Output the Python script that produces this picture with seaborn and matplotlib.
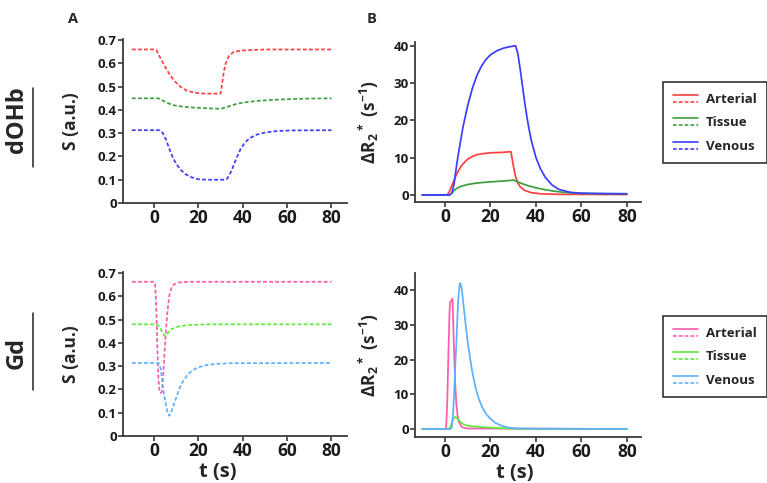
import numpy as np
import pandas as pd
import matplotlib
matplotlib.use("Agg")
import matplotlib.pyplot as plt
from matplotlib.lines import Line2D
from matplotlib.legend_handler import HandlerBase
import seaborn as sns

# ---------------- data ----------------
regions = ["Arterial", "Tissue", "Venous"]

# dOHb signal (panel A, top)
dohb_art_t = [-10, 0, 1, 3, 5, 7, 9, 11, 13, 15, 18, 21, 25, 29, 30, 30.8, 31.5, 32.3, 33.8, 36, 39, 45, 50, 80]
dohb_art_s = [0.66, 0.66, 0.658, 0.62, 0.585, 0.553, 0.527, 0.507, 0.492, 0.482, 0.475, 0.471, 0.47, 0.47, 0.47, 0.52, 0.565, 0.6, 0.633, 0.65, 0.655, 0.658, 0.66, 0.66]
dohb_tis_t = [-10, 2, 4, 6, 9, 13, 18, 24, 30, 32, 35, 38, 42, 48, 55, 62, 70, 80]
dohb_tis_s = [0.45, 0.45, 0.44, 0.43, 0.42, 0.414, 0.41, 0.407, 0.405, 0.41, 0.42, 0.428, 0.434, 0.44, 0.444, 0.447, 0.449, 0.45]
dohb_ven_t = [-10, 2.5, 4, 5.5, 7, 8.5, 10, 12, 14, 17, 20, 24, 28, 32, 33, 34.5, 36, 37.5, 39, 41, 43, 46, 50, 55, 62, 80]
dohb_ven_s = [0.313, 0.313, 0.30, 0.27, 0.23, 0.195, 0.168, 0.143, 0.125, 0.11, 0.102, 0.1, 0.1, 0.1, 0.105, 0.13, 0.165, 0.2, 0.232, 0.26, 0.278, 0.293, 0.303, 0.309, 0.312, 0.313]

# dOHb relaxation (panel B, top)
dohb_art_r_t = [-10, 1, 2, 3, 4, 5, 6, 7, 8, 10, 12, 14, 17, 20, 25, 29, 30, 31, 32, 33, 35, 38, 42, 50, 80]
dohb_art_r = [0, 0, 1, 2.5, 4, 5.4, 6.6, 7.6, 8.4, 9.6, 10.3, 10.8, 11.1, 11.3, 11.4, 11.6, 8, 5, 3.2, 2.2, 1.2, 0.6, 0.3, 0.15, 0.1]
dohb_tis_r_t = [-10, 2, 3, 4, 5, 7, 10, 13, 16, 20, 25, 29, 30, 32, 34, 37, 40, 44, 48, 52, 58, 65, 80]
dohb_tis_r = [0, 0, 0.5, 1.2, 1.7, 2.3, 2.8, 3.1, 3.3, 3.5, 3.7, 3.9, 4.0, 3.5, 3.0, 2.4, 1.9, 1.4, 1.0, 0.7, 0.45, 0.35, 0.3]
dohb_ven_r_t = [-10, 2, 3, 4, 5, 6, 7, 8, 10, 12, 14, 16, 18, 20, 23, 26, 29, 31, 32, 33, 34, 35, 36, 37, 38, 40, 42, 44, 47, 50, 55, 60, 70, 80]
dohb_ven_r = [0, 0, 0.5, 3, 7.5, 11.5, 15, 18.5, 24, 28.5, 32, 34.5, 36.3, 37.6, 38.7, 39.4, 39.8, 40, 38, 34, 29.5, 25, 21, 17.5, 14.5, 10, 7, 4.8, 2.7, 1.5, 0.7, 0.45, 0.35, 0.3]

# Gd signal (panel A, bottom)
gd_art_t = [-10, 0, 0.5, 1, 1.5, 2, 2.5, 3, 3.5, 4, 4.5, 5, 5.5, 6, 6.5, 7, 8, 9, 11, 15, 80]
gd_art_s = [0.663, 0.663, 0.655, 0.55, 0.38, 0.24, 0.19, 0.185, 0.19, 0.24, 0.32, 0.40, 0.47, 0.53, 0.575, 0.61, 0.64, 0.652, 0.66, 0.663, 0.663]
gd_tis_t = [-10, 1, 2, 3, 4, 5, 6, 7, 8, 10, 13, 17, 25, 80]
gd_tis_s = [0.48, 0.48, 0.475, 0.46, 0.44, 0.428, 0.44, 0.452, 0.46, 0.468, 0.474, 0.478, 0.48, 0.48]
gd_ven_t = [-10, 2, 3, 4, 5, 6, 6.8, 7.5, 8.5, 10, 11.5, 13, 15, 17, 19.5, 23, 28, 35, 80]
gd_ven_s = [0.314, 0.314, 0.29, 0.21, 0.15, 0.105, 0.087, 0.095, 0.125, 0.165, 0.205, 0.235, 0.262, 0.28, 0.294, 0.304, 0.31, 0.313, 0.314]

# Gd relaxation (panel B, bottom)
gd_art_r_t = [-10, 0, 0.5, 1, 1.5, 2, 2.3, 2.8, 3.3, 3.5, 4, 4.5, 5, 5.5, 6, 7, 8, 10, 80]
gd_art_r = [0, 0, 0.5, 8, 22, 34, 36.5, 37, 37.5, 33, 22, 13, 7, 4, 2.2, 0.9, 0.4, 0.15, 0]
gd_tis_r_t = [-10, 1.5, 2.5, 3.5, 4.5, 5.5, 6.5, 8, 10, 13, 17, 22, 28, 35, 80]
gd_tis_r = [0, 0, 0.8, 2.8, 3.5, 3.0, 2.2, 1.4, 0.95, 0.7, 0.5, 0.3, 0.15, 0.05, 0]
gd_ven_r_t = [-10, 2.5, 3, 3.5, 4, 4.5, 5, 5.5, 6, 6.5, 7, 7.5, 8, 9, 10, 11, 12, 13, 14, 15, 16.5, 18, 20, 22, 25, 28, 32, 80]
gd_ven_r = [0, 0, 0.5, 4, 10, 18, 25, 33, 39, 42, 41.5, 39.5, 36.5, 30.5, 25, 20.5, 16.5, 13.2, 10.5, 8.4, 6.1, 4.4, 2.9, 1.8, 0.9, 0.4, 0.15, 0]

x_ticks = [0, 20, 40, 60, 80]
s_ticks = [0, 0.1, 0.2, 0.3, 0.4, 0.5, 0.6, 0.7]
s_ticklabels = ["0", "0.1", "0.2", "0.3", "0.4", "0.5", "0.6", "0.7"]
r_ticks = [0, 10, 20, 30, 40]

dohb_colors = ["#ff4040", "#3e9e3e", "#3c3cff"]
gd_colors = ["#ff5aa8", "#5de83a", "#5cb0ff"]

# ---------------- style ----------------
sns.set_style("ticks")
FONT = "Open Sans"
plt.rcParams["font.family"] = [FONT, "DejaVu Sans"]
plt.rcParams["font.weight"] = "bold"
plt.rcParams["mathtext.fontset"] = "custom"
plt.rcParams["mathtext.rm"] = FONT + ":bold"
plt.rcParams["mathtext.bf"] = FONT + ":bold"
plt.rcParams["mathtext.default"] = "bf"

W, H = 767, 483
fig = plt.figure(figsize=(W / 100, H / 100), dpi=100)


def fbox(x0, y0, x1, y1):
    return [x0 / W, 1 - y1 / H, (x1 - x0) / W, (y1 - y0) / H]


axA1 = fig.add_axes(fbox(123, 39, 347, 203))
axB1 = fig.add_axes(fbox(415, 42, 641, 202))
axA2 = fig.add_axes(fbox(123, 272, 347, 436))
axB2 = fig.add_axes(fbox(415, 273, 641, 437))

dash = (0, (2.2, 1.3))


def draw(ax, series, colors, ls):
    for (t, v), c in zip(series, colors):
        df = pd.DataFrame({"t": t, "v": v})
        sns.lineplot(data=df, x="t", y="v", ax=ax, color=c, linestyle=ls,
                     linewidth=1.25, estimator=None, sort=True, legend=False)


draw(axA1, [(dohb_art_t, dohb_art_s), (dohb_tis_t, dohb_tis_s), (dohb_ven_t, dohb_ven_s)], dohb_colors, dash)
draw(axB1, [(dohb_art_r_t, dohb_art_r), (dohb_tis_r_t, dohb_tis_r), (dohb_ven_r_t, dohb_ven_r)], dohb_colors, "-")
draw(axA2, [(gd_art_t, gd_art_s), (gd_tis_t, gd_tis_s), (gd_ven_t, gd_ven_s)], gd_colors, dash)
draw(axB2, [(gd_art_r_t, gd_art_r), (gd_tis_r_t, gd_tis_r), (gd_ven_r_t, gd_ven_r)], gd_colors, "-")

spine_c = "#3a3a3a"
for ax in (axA1, axB1, axA2, axB2):
    sns.despine(ax=ax)
    for s in ("left", "bottom"):
        ax.spines[s].set_color(spine_c)
        ax.spines[s].set_linewidth(1.3)
    ax.tick_params(axis="both", direction="out", length=3.5, width=1.2, color=spine_c, pad=1)
    ax.tick_params(axis="x", labelsize=12.5)
    ax.tick_params(axis="y", labelsize=9.5)
    ax.set_xticks(x_ticks)
    ax.set_xlim(-14, 87)
    ax.set_xlabel("")
    ax.set_ylabel("")
    for lab in ax.get_xticklabels() + ax.get_yticklabels():
        lab.set_fontweight("bold")
        lab.set_color("#1a1a1a")

for ax in (axA1, axA2):
    ax.set_ylim(0, 0.705)
    ax.set_yticks(s_ticks)
    ax.set_yticklabels(s_ticklabels, fontsize=9.5, fontweight="bold", color="#1a1a1a")
    ax.set_ylabel("S (a.u.)", fontsize=12.5, fontweight="bold")
    ax.yaxis.set_label_coords(-0.19, 0.5)

axB1.set_ylim(-1.9, 41)
axB2.set_ylim(-2.3, 44.9)
for ax in (axB1, axB2):
    ax.set_xlim(-13.2, 86.2)
    ax.set_yticks(r_ticks)
    ax.set_ylabel("ΔR$_2$$^*$ (s$^{-1}$)", fontsize=12.5, fontweight="bold")
    ax.yaxis.set_label_coords(-0.15, 0.5)

for ax, xc in ((axA2, 0.424), (axB2, 0.44)):
    ax.set_xlabel("t (s)", fontsize=14.5, fontweight="bold")
    ax.xaxis.set_label_coords(xc, -0.16)

# panel letters
fig.text(73 / W, 1 - 19 / H, "A", fontsize=10.5, fontweight="bold", ha="center", va="center")
fig.text(372 / W, 1 - 19 / H, "B", fontsize=10.5, fontweight="bold", ha="center", va="center")

# row labels
fig.text(17 / W, 1 - 120 / H, "dOHb", rotation=90, fontsize=17, fontweight="bold", ha="center", va="center")
fig.add_artist(Line2D([33 / W, 33 / W], [1 - 88 / H, 1 - 167 / H], transform=fig.transFigure, color="#222222", lw=1.1))
fig.text(17 / W, 1 - 353 / H, "Gd", rotation=90, fontsize=17, fontweight="bold", ha="center", va="center")
fig.add_artist(Line2D([33 / W, 33 / W], [1 - 313 / H, 1 - 390 / H], transform=fig.transFigure, color="#222222", lw=1.1))


# legend handler: solid line above a dashed line
class HandlerPair(HandlerBase):
    def create_artists(self, legend, orig_handle, xdescent, ydescent, width, height, fontsize, trans):
        c = orig_handle.get_color()
        x = [-xdescent, -xdescent + width]
        y1 = -ydescent + 0.78 * height
        y2 = -ydescent + 0.22 * height
        l1 = Line2D(x, [y1, y1], color=c, lw=1.2, transform=trans)
        l2 = Line2D(x, [y2, y2], color=c, lw=1.2, linestyle=(0, (2.2, 1.3)), transform=trans)
        return [l1, l2]


def add_legend(colors, x0, y0):
    handles = [Line2D([], [], color=c) for c in colors]
    leg = fig.legend(handles, regions, loc="upper left", bbox_to_anchor=(x0 / W, 1 - y0 / H),
                     bbox_transform=fig.transFigure, handler_map={Line2D: HandlerPair()},
                     frameon=True, fancybox=False, edgecolor="#222222", framealpha=1,
                     prop={"size": 9.5, "weight": "bold"}, handlelength=1.9, handleheight=1.1,
                     handletextpad=0.6, labelspacing=0.75, borderpad=0.75, borderaxespad=0)
    leg.get_frame().set_linewidth(1.1)
    return leg


add_legend(dohb_colors, 663, 82)
add_legend(gd_colors, 663, 316)

fig.savefig("out.png", dpi=100)
